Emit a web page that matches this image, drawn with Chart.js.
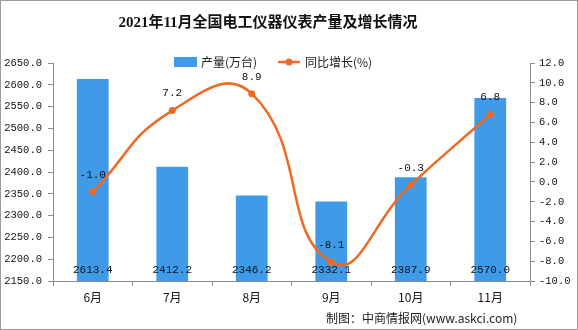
<!DOCTYPE html>
<html>
<head>
<meta charset="utf-8">
<script src="https://cdn.jsdelivr.net/npm/chart.js@4/dist/chart.umd.min.js"></script>
<style>
  html, body { margin: 0; padding: 0; background: #fff; }
  #wrap { width: 578px; height: 330px; }
</style>
</head>
<body>
<div id="wrap"><canvas id="chart" width="578" height="330"></canvas></div>
<script>
// chart data
const months = ['6月', '7月', '8月', '9月', '10月', '11月'];
const output = [2613.4, 2412.2, 2346.2, 2332.1, 2387.9, 2570.0];
const growth = [-1.0, 7.2, 8.9, -8.1, -0.3, 6.8];

const BLUE = '#3f9be8';
const ORANGE = '#ee6a24';
const AXIS = '#8c8c8c';
const MONO = '"Liberation Mono", "DejaVu Sans Mono", monospace';
const CJK = '"Noto Sans CJK SC", "Noto Sans", sans-serif';

// title, legend, footer, frame and value labels
const decor = {
    id: 'decor',
    beforeDraw(chart) {
        const ctx = chart.ctx;
        ctx.save();
        ctx.fillStyle = '#fff';
        ctx.fillRect(0, 0, chart.width, chart.height);
        ctx.restore();
    },
    afterDatasetsDraw(chart) {
        const ctx = chart.ctx;
        const bottom = chart.scales.y.bottom;
        ctx.save();
        ctx.font = '11px ' + MONO;
        ctx.fillStyle = '#111';
        ctx.textAlign = 'center';
        ctx.textBaseline = 'middle';

        chart.getDatasetMeta(0).data.forEach((bar, i) => {
            ctx.fillText(output[i].toFixed(1), bar.x, bottom - 11);
        });

        chart.getDatasetMeta(1).data.forEach((pt, i) => {
            ctx.fillText(growth[i].toFixed(1), pt.x, pt.y - 17);
        });
        ctx.restore();
    },
    afterDraw(chart) {
        const ctx = chart.ctx;
        ctx.save();

        // title
        ctx.fillStyle = '#111';
        ctx.font = 'bold 15px "Liberation Serif", ' + CJK;
        ctx.textAlign = 'center';
        ctx.textBaseline = 'middle';
        ctx.fillText('2021年11月全国电工仪器仪表产量及增长情况', 268, 23);

        // legend
        ctx.font = '12px ' + CJK;
        ctx.textAlign = 'left';
        ctx.fillStyle = BLUE;
        ctx.fillRect(174, 57, 23, 10);
        ctx.fillStyle = '#222';
        ctx.fillText(chart.data.datasets[0].label, 201, 62);

        ctx.strokeStyle = ORANGE;
        ctx.lineWidth = 2.5;
        ctx.beginPath();
        ctx.moveTo(278, 62);
        ctx.lineTo(300, 62);
        ctx.stroke();
        ctx.fillStyle = ORANGE;
        ctx.beginPath();
        ctx.arc(289, 62, 3.5, 0, Math.PI * 2);
        ctx.fill();
        ctx.fillStyle = '#222';
        ctx.fillText(chart.data.datasets[1].label, 305, 62);

        // footer
        ctx.font = '12px ' + CJK;
        ctx.fillText('制图：中商情报网(www.askci.com)', 326, 318);

        // outer frame
        ctx.strokeStyle = '#9a9a9a';
        ctx.lineWidth = 1;
        ctx.strokeRect(0.5, 0.5, chart.width - 1, chart.height - 1);
        ctx.restore();
    }
};

new Chart(document.getElementById('chart'), {
    data: {
        labels: months,
        datasets: [{
            type: 'bar',
            label: '产量(万台)',
            data: output,
            backgroundColor: BLUE,
            yAxisID: 'y',
            barPercentage: 0.4,
            categoryPercentage: 1,
            order: 2
        }, {
            type: 'line',
            label: '同比增长(%)',
            data: growth,
            borderColor: ORANGE,
            backgroundColor: ORANGE,
            borderWidth: 2.5,
            pointRadius: 3.5,
            pointBackgroundColor: ORANGE,
            pointBorderWidth: 0,
            tension: 0.5,
            yAxisID: 'y1',
            order: 1
        }]
    },
    options: {
        responsive: false,
        animation: false,
        layout: { padding: { top: 63, left: 0, right: 0, bottom: 0 } },
        plugins: {
            legend: { display: false },
            tooltip: { enabled: false }
        },
        scales: {
            x: {
                offset: true,
                grid: { display: true, drawOnChartArea: false, offset: true, tickLength: 5, color: AXIS },
                border: { color: AXIS },
                ticks: { color: '#111', font: { family: CJK, size: 12 }, padding: 4 },
                afterFit(scale) { scale.height = 49; }
            },
            y: {
                position: 'left',
                min: 2150,
                max: 2650,
                grid: { drawOnChartArea: false, tickLength: 5, color: AXIS },
                border: { color: AXIS },
                ticks: {
                    stepSize: 50,
                    color: '#111',
                    font: { family: MONO, size: 10.5 },
                    padding: 6,
                    callback: v => v.toFixed(1)
                },
                afterFit(scale) { scale.width = 53; }
            },
            y1: {
                position: 'right',
                min: -10,
                max: 12,
                grid: { drawOnChartArea: false, tickLength: 5, color: AXIS },
                border: { color: AXIS },
                ticks: {
                    stepSize: 2,
                    color: '#111',
                    font: { family: MONO, size: 10.5 },
                    padding: 4,
                    callback: v => v.toFixed(1)
                },
                afterFit(scale) { scale.width = 48; }
            }
        }
    },
    plugins: [decor]
});
</script>
</body>
</html>
